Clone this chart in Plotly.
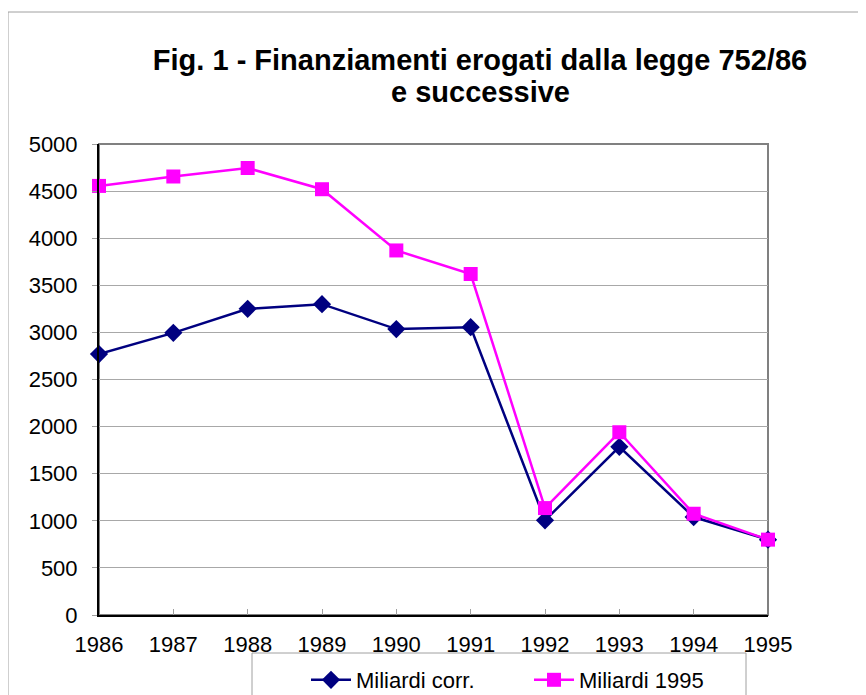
import plotly.graph_objects as go

years = [1986, 1987, 1988, 1989, 1990, 1991, 1992, 1993, 1994, 1995]
miliardi_corr = [2770, 2995, 3250, 3300, 3035, 3055, 1005, 1785, 1040, 800]
miliardi_1995 = [4555, 4655, 4745, 4520, 3870, 3620, 1135, 1940, 1075, 800]
y_ticks = [0, 500, 1000, 1500, 2000, 2500, 3000, 3500, 4000, 4500, 5000]
title_lines = ["Fig. 1 - Finanziamenti erogati dalla legge 752/86", "e successive"]

FONT = "Liberation Sans, Arial, sans-serif"
W, H = 866, 695
OFF = 8  # page body margin: screen pixel = figure pixel + 8
# plot area in screen pixels
L, R, T, B = 99, 768, 144, 615
pw, ph = R - L, B - T

def px_x(p):
    return (p - L) / pw

def px_y(p):
    return (B - p) / ph

fig = go.Figure()
fig.add_trace(go.Scatter(
    x=years, y=miliardi_corr, name="Miliardi corr.", mode="lines+markers",
    line=dict(color="#000080", width=2.5),
    marker=dict(symbol="diamond", size=14, color="#000080"),
    cliponaxis=False,
))
fig.add_trace(go.Scatter(
    x=years, y=miliardi_1995, name="Miliardi 1995", mode="lines+markers",
    line=dict(color="#FF00FF", width=2.5),
    marker=dict(symbol="square", size=14, color="#FF00FF"),
    cliponaxis=False,
))

shapes = [
    # outer chart border (top/left visible)
    dict(type="rect", xref="paper", yref="paper", x0=px_x(8), x1=px_x(W + 40),
         y0=px_y(H + 40), y1=px_y(12), line=dict(color="#A0A0A0", width=1), layer="below"),
    # plot area border
    dict(type="rect", xref="paper", yref="paper", x0=0, x1=1, y0=0, y1=1,
         line=dict(color="#808080", width=2), layer="below"),
    # legend box
    dict(type="rect", xref="paper", yref="paper", x0=px_x(252), x1=px_x(746),
         y0=px_y(H + 40), y1=px_y(653), line=dict(color="#A0A0A0", width=1), layer="below"),
]

fig.update_layout(
    width=W, height=H,
    margin=dict(l=L - OFF, r=W - (R - OFF), t=T - OFF, b=H - (B - OFF), autoexpand=False),
    paper_bgcolor="white", plot_bgcolor="white",
    font=dict(family=FONT, size=22, color="black"),
    title=dict(
        text="<b>" + title_lines[0] + "</b>",
        x=(480 - OFF) / W, xanchor="center", y=1 - (60 - OFF) / H, yanchor="middle",
        font=dict(family=FONT, size=29, color="black"),
        automargin=False,
    ),
    annotations=[dict(
        text="<b>" + title_lines[1] + "</b>", xref="paper", yref="paper",
        x=px_x(480), y=px_y(92), xanchor="center", yanchor="middle",
        showarrow=False, font=dict(family=FONT, size=29, color="black"),
    )],
    xaxis=dict(
        range=[1986, 1995], tickmode="array", tickvals=years,
        ticktext=[str(y) for y in years],
        showgrid=False, zeroline=False, automargin=False,
        showline=True, linecolor="black", linewidth=2,
        ticks="inside", ticklen=6, tickcolor="#A0A0A0", tickwidth=1,
        ticklabelstandoff=9,
        tickfont=dict(family=FONT, size=22, color="black"),
    ),
    yaxis=dict(
        range=[0, 5000], tickmode="array", tickvals=y_ticks,
        showgrid=True, gridcolor="#A8A8A8", gridwidth=1, zeroline=False,
        automargin=False,
        showline=True, linecolor="black", linewidth=2,
        ticks="outside", ticklen=5, tickcolor="#A0A0A0", tickwidth=1,
        ticklabelstandoff=10,
        tickfont=dict(family=FONT, size=22, color="black"),
    ),
    legend=dict(
        orientation="h", x=px_x(306), xanchor="left", y=px_y(659), yanchor="top",
        font=dict(family=FONT, size=22, color="black"),
        bgcolor="rgba(0,0,0,0)", borderwidth=0, itemwidth=40, entrywidth=168,
    ),
    shapes=shapes,
    showlegend=True,
)

fig.write_html("out.html")
